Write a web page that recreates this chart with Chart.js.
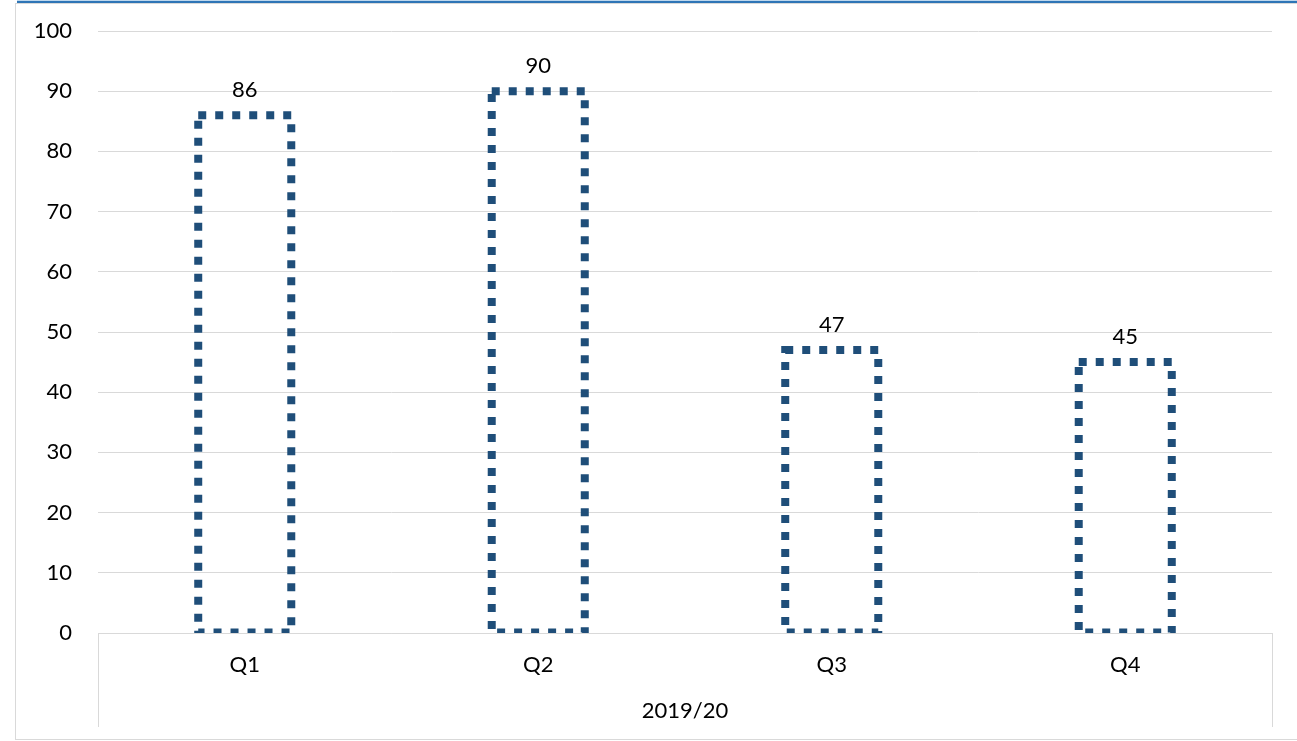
<!DOCTYPE html>
<html>
<head>
<meta charset="utf-8">
<script src="https://cdn.jsdelivr.net/npm/chart.js@4/dist/chart.umd.min.js"></script>
<style>
  html, body { margin: 0; padding: 0; background: #fff; }
  #wrap { position: relative; width: 1297px; height: 741px; overflow: hidden; }
  #frame { position: absolute; left: 15px; top: 3px; width: 1300px; height: 735px; border: 1px solid #d9d9d9; }
  #topline { position: absolute; left: 17px; right: 0; top: 0; height: 1px; background: #bdd7ee;
             border-bottom: 2px solid #2e75b6; }
  canvas { position: absolute; left: 0; top: 0; }
</style>
</head>
<body>
<div id="wrap">
  <div id="frame"></div>
  <div id="topline"></div>
  <canvas id="quarterChart"></canvas>
</div>
<script>
const quarters = ['Q1', 'Q2', 'Q3', 'Q4'];
const values = [86, 90, 47, 45];
const yearLabel = '2019/20';

const barColor = '#1f4e79';
const gridColor = '#d9d9d9';
const fontFamily = 'Lato, "Noto Sans", sans-serif';

const canvas = document.getElementById('quarterChart');
canvas.width = 1297;
canvas.height = 741;
canvas.style.width = '1297px';
canvas.style.height = '741px';

// dotted outline for each bar plus its value on top
const dottedBars = {
    id: 'dottedBars',
    afterDatasetsDraw(chart) {
        const ctx = chart.ctx;
        const area = chart.chartArea;
        const meta = chart.getDatasetMeta(0);
        ctx.save();
        ctx.beginPath();
        ctx.rect(area.left, area.top - 20, area.right - area.left, area.bottom - area.top + 20);
        ctx.clip();
        ctx.strokeStyle = barColor;
        ctx.lineWidth = 8;
        ctx.setLineDash([8, 9]);
        meta.data.forEach(bar => {
            const p = bar.getProps(['x', 'y', 'base', 'width'], true);
            ctx.beginPath();
            ctx.rect(p.x - p.width / 2, p.y, p.width, p.base - p.y);
            ctx.stroke();
        });
        ctx.restore();

        ctx.save();
        ctx.fillStyle = '#000';
        ctx.font = '22px ' + fontFamily;
        ctx.textAlign = 'center';
        ctx.textBaseline = 'alphabetic';
        meta.data.forEach((bar, i) => {
            const p = bar.getProps(['x', 'y'], true);
            ctx.fillText(String(values[i]), p.x, p.y - 18);
        });
        ctx.restore();
    },
    afterDraw(chart) {
        // outer separators of the category axis
        const ctx = chart.ctx;
        const area = chart.chartArea;
        ctx.save();
        ctx.strokeStyle = gridColor;
        ctx.lineWidth = 1;
        [area.left, area.right].forEach(x => {
            ctx.beginPath();
            ctx.moveTo(Math.round(x) + 0.5, area.bottom);
            ctx.lineTo(Math.round(x) + 0.5, area.bottom + 94);
            ctx.stroke();
        });
        ctx.restore();
    }
};

new Chart(canvas.getContext('2d'), {
    type: 'bar',
    data: {
        labels: quarters,
        datasets: [{
            data: values,
            backgroundColor: 'rgba(0,0,0,0)',
            borderWidth: 0,
            barPercentage: 0.317,
            categoryPercentage: 1
        }]
    },
    options: {
        responsive: false,
        animation: false,
        layout: { padding: { top: 31, right: 25, bottom: 0, left: 0 } },
        plugins: {
            legend: { display: false },
            tooltip: { enabled: false }
        },
        scales: {
            x: {
                grid: { display: false, drawTicks: false },
                border: { display: true, color: gridColor, width: 1 },
                ticks: {
                    color: '#000',
                    padding: 19,
                    font: { family: fontFamily, size: 22 }
                },
                title: {
                    display: true,
                    text: yearLabel,
                    color: '#000',
                    font: { family: fontFamily, size: 22 },
                    padding: { top: 0, bottom: 17 }
                },
                afterFit(scale) { scale.height = 108; }
            },
            y: {
                min: 0,
                max: 100,
                grid: { color: gridColor, lineWidth: 1, drawTicks: false },
                border: { display: false },
                ticks: {
                    stepSize: 10,
                    color: '#000',
                    padding: 26,
                    font: { family: fontFamily, size: 22 }
                },
                afterFit(scale) {
                    scale.width = 98;
                    scale.paddingTop = 0;
                    scale.paddingBottom = 0;
                }
            }
        }
    },
    plugins: [dottedBars]
});
</script>
</body>
</html>
